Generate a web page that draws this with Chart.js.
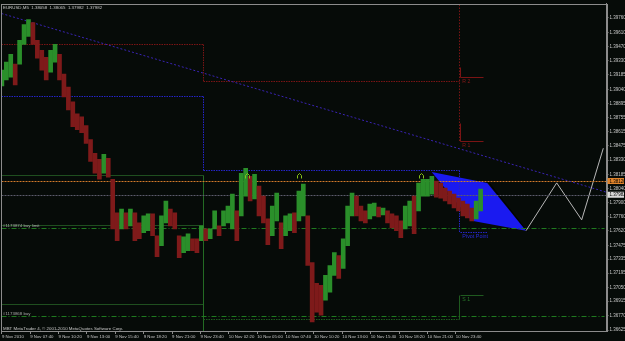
<!DOCTYPE html>
<html>
<head>
<meta charset="UTF-8">
<title>EURUSD,M5</title>
<script src="https://cdn.jsdelivr.net/npm/chart.js"></script>
<style>
    body { margin: 0; background: #060b08; }
    canvas { display: block; }
</style>
</head>
<body>
<canvas id="grafico" width="625" height="341"></canvas>
<script>
// each entry = 5 M5 bars (25 min), bar 0 = first bar on screen
const barStep = 5;
const highs = [
    1.39232, 1.39312, 1.39392, 1.39292, 1.39531, 1.39690, 1.39740, 1.39710, 1.39531, 1.39431,
    1.39362, 1.39431, 1.39491, 1.39392, 1.39193, 1.39063, 1.38914, 1.38795, 1.38765, 1.38675,
    1.38536, 1.38397, 1.38337, 1.38387, 1.38347, 1.38138, 1.37800, 1.37839, 1.37800, 1.37839,
    1.37800, 1.37700, 1.37770, 1.37790, 1.37790, 1.37571, 1.37770, 1.37919, 1.37839, 1.37800,
    1.37571, 1.37561, 1.37591, 1.37541, 1.37541, 1.37670, 1.37640, 1.37640, 1.37820, 1.37670,
    1.37820, 1.37869, 1.37989, 1.37820, 1.38198, 1.38247, 1.38168, 1.38188, 1.38068, 1.37969,
    1.37740, 1.37869, 1.37999, 1.37700, 1.37770, 1.37790, 1.37800, 1.38019, 1.38088, 1.37770,
    1.37302, 1.37093, 1.37073, 1.37173, 1.37272, 1.37402, 1.37372, 1.37541, 1.37869, 1.37999,
    1.37969, 1.37869, 1.37820, 1.37889, 1.37899, 1.37859, 1.37849, 1.37820, 1.37790, 1.37770,
    1.37720, 1.37869, 1.37919, 1.37969, 1.38098, 1.38138, 1.38138, 1.38168, 1.38118, 1.38098,
    1.38048, 1.38019, 1.37989, 1.37949, 1.37919, 1.37889, 1.37849, 1.37919, 1.38038
];
const lows = [
    1.39073, 1.39133, 1.39163, 1.39083, 1.39292, 1.39491, 1.39571, 1.39491, 1.39352, 1.39232,
    1.39133, 1.39213, 1.39312, 1.39133, 1.38964, 1.38834, 1.38665, 1.38635, 1.38606, 1.38496,
    1.38317, 1.38198, 1.38138, 1.38198, 1.38158, 1.37640, 1.37521, 1.37640, 1.37640, 1.37670,
    1.37521, 1.37541, 1.37601, 1.37621, 1.37571, 1.37362, 1.37471, 1.37700, 1.37670, 1.37640,
    1.37352, 1.37402, 1.37422, 1.37422, 1.37402, 1.37521, 1.37521, 1.37541, 1.37640, 1.37571,
    1.37670, 1.37700, 1.37640, 1.37521, 1.37770, 1.37969, 1.37919, 1.37939, 1.37770, 1.37700,
    1.37481, 1.37571, 1.37720, 1.37441, 1.37571, 1.37621, 1.37601, 1.37720, 1.37770, 1.37272,
    1.36705, 1.36805, 1.36775, 1.36924, 1.37004, 1.37173, 1.37143, 1.37242, 1.37471, 1.37770,
    1.37770, 1.37720, 1.37700, 1.37740, 1.37770, 1.37760, 1.37780, 1.37700, 1.37650, 1.37621,
    1.37551, 1.37640, 1.37670, 1.37591, 1.37820, 1.37969, 1.37969, 1.37989, 1.37959, 1.37949,
    1.37919, 1.37889, 1.37849, 1.37820, 1.37770, 1.37750, 1.37720, 1.37740, 1.37820
];

const xTickBars = [0, 32, 64, 96, 128, 160, 192, 224, 256, 288, 320, 352, 384, 416, 448, 480, 512];
const xTickLabels = ['9 Nov 2010', '9 Nov 07:40', '9 Nov 10:20', '9 Nov 13:00', '9 Nov 15:40',
    '9 Nov 18:20', '9 Nov 21:00', '9 Nov 23:40', '10 Nov 02:20', '10 Nov 05:00', '10 Nov 07:40',
    '10 Nov 10:20', '10 Nov 13:00', '10 Nov 15:40', '10 Nov 18:20', '10 Nov 21:00', '10 Nov 23:40'];
const yTicks = [1.39760, 1.39610, 1.39470, 1.39330, 1.39185, 1.39040, 1.38895, 1.38755, 1.38615,
    1.38475, 1.38330, 1.38185, 1.38040, 1.37900, 1.37760, 1.37620, 1.37475, 1.37335, 1.37195,
    1.37050, 1.36915, 1.36770, 1.36625];

const header = 'EURUSD,M5  1.38058  1.38065  1.37982  1.37982';
const footer = 'MBT MetaTrader 4, © 2001-2010 MetaQuotes Software Corp.';
const bidPrice = 1.37982;
const alertPrice = 1.38120;

// day breaks (bar index) and pivot levels
const midnights = [227, 516];
const redLevels = [1.39494, 1.39120];
const blueLevels = [1.38977, 1.38234];
const greenBox = [1.38185, 1.37677, 1.36881];
const s1Yesterday = 1.36732;
const todayLevels = [1.39160, 1.38523, 1.37611, 1.36974];
const todayNames = ['R 2', 'R 1', 'Pivot Point', 'S 1'];
const todayEnd = 543;

const orderPrices = [1.37647, 1.36765];
const orderNames = ['#1173874 buy limit', '#1173868 buy'];

const trendX = [-1, 682];
const trendY = [1.39802, 1.38013];

const patternX = [484.8, 547.5, 591.2, 529.9];
const patternY = [1.38211, 1.38101, 1.37621, 1.37720];
const projX = [591.2, 625.8, 654, 678.4];
const projY = [1.37621, 1.38101, 1.37730, 1.38449];

const fractalX = [276, 335.5, 472.4];
const fractalY = [1.38168, 1.38168, 1.38168];

const verde = '#2a8f2a';
const rojo = '#7e1a1a';

const mids = highs.map((h, i) => (h + lows[i]) / 2);
const velas = highs.map((h, i) => ({ x: i * barStep, y: [lows[i], h] }));
const colores = mids.map((m, i) => (i === 0 || m >= mids[i - 1]) ? verde : rojo);

const fuente = 'Liberation Sans';
Chart.defaults.font.family = fuente;

const dibujos = {
    id: 'dibujos',
    beforeDraw(chart) {
        const ctx = chart.ctx;
        ctx.save();
        ctx.fillStyle = '#060b08';
        ctx.fillRect(0, 0, chart.width, chart.height);
        ctx.restore();
    },
    beforeDatasetsDraw(chart) {
        const ctx = chart.ctx;
        const a = chart.chartArea;
        const X = v => chart.scales.x.getPixelForValue(v);
        const Y = v => chart.scales.y.getPixelForValue(v);
        const c = v => Math.round(v) + 0.5;

        function seg(x1, y1, x2, y2, color, dash) {
            ctx.beginPath();
            ctx.strokeStyle = color;
            ctx.setLineDash(dash || []);
            ctx.moveTo(c(x1), c(y1));
            ctx.lineTo(c(x2), c(y2));
            ctx.stroke();
        }

        ctx.save();
        ctx.beginPath();
        ctx.rect(a.left, a.top, a.right - a.left, a.bottom - a.top);
        ctx.clip();
        ctx.lineWidth = 1;

        const m0 = X(midnights[0]);
        const m1 = X(midnights[1]);
        const tEnd = X(todayEnd);

        // pattern polygon
        ctx.beginPath();
        patternX.forEach((v, i) => {
            if (i === 0) ctx.moveTo(X(v), Y(patternY[i]));
            else ctx.lineTo(X(v), Y(patternY[i]));
        });
        ctx.closePath();
        ctx.fillStyle = '#1a1af0';
        ctx.fill();

        // projection zigzag
        seg(X(patternX[1]) + 2, Y(patternY[1]), X(patternX[2]) + 1, Y(patternY[2]), '#000000');
        ctx.beginPath();
        ctx.strokeStyle = '#b8b8b8';
        ctx.setLineDash([]);
        projX.forEach((v, i) => {
            if (i === 0) ctx.moveTo(X(v), Y(projY[i]));
            else ctx.lineTo(X(v), Y(projY[i]));
        });
        ctx.stroke();

        // yesterday / day-before levels
        const rojoP = '#7a1414';
        const azulP = '#2424c8';
        const verdeP = '#1f4f1f';
        seg(a.left, Y(redLevels[0]), m0, Y(redLevels[0]), rojoP, [1.5, 1]);
        seg(m0, Y(redLevels[0]), m0, Y(redLevels[1]), rojoP, [1.5, 1]);
        seg(m0, Y(redLevels[1]), m1, Y(redLevels[1]), rojoP, [1.5, 1]);

        seg(a.left, Y(blueLevels[0]), m0, Y(blueLevels[0]), azulP, [1.5, 1]);
        seg(m0, Y(blueLevels[0]), m0, Y(blueLevels[1]), azulP, [1.5, 1]);
        seg(m0, Y(blueLevels[1]), m1, Y(blueLevels[1]), azulP, [1.5, 1]);
        seg(m1, Y(blueLevels[1]), m1, Y(todayLevels[2]), azulP, [1.5, 1]);

        greenBox.forEach(p => seg(a.left, Y(p), m0, Y(p), verdeP));
        seg(m0, Y(greenBox[0]), m0, a.bottom, '#236b23');
        seg(m0, Y(s1Yesterday), m1, Y(s1Yesterday), '#1f5a1f', [1.5, 1]);
        seg(m1, Y(todayLevels[3]), m1, Y(s1Yesterday), '#1f5a1f');

        // today's short pivot levels
        seg(m1, a.top, m1, Y(todayLevels[1]), rojoP, [1.5, 1.5]);
        seg(m1 + 1, Y(todayLevels[0]) - 10, m1 + 1, Y(todayLevels[0]), rojoP);
        seg(m1 + 1, Y(todayLevels[1]) - 18, m1 + 1, Y(todayLevels[1]), rojoP);
        const todayColors = [rojoP, rojoP, azulP, '#1f5a1f'];
        todayLevels.forEach((p, i) => {
            const fin = i === 2 ? tEnd + 4 : tEnd;
            seg(m1 + 1, Y(p), fin, Y(p), todayColors[i], i === 2 ? [1.5, 1] : []);
        });

        // order lines
        orderPrices.forEach(p => seg(a.left, Y(p), a.right - 3, Y(p), '#1f7a1f', [5, 2, 1, 2]));

        // price lines
        seg(a.left, Y(alertPrice), a.right, Y(alertPrice), '#d27a2a', [2, 1]);
        seg(a.left, Y(bidPrice), a.right, Y(bidPrice), '#5c5c6c', [2, 1]);

        // trend line
        seg(X(trendX[0]), Y(trendY[0]), X(trendX[1]), Y(trendY[1]), '#3a24b4', [2, 2]);

        ctx.restore();
    },
    afterDatasetsDraw(chart) {
        const ctx = chart.ctx;
        const a = chart.chartArea;
        const X = v => chart.scales.x.getPixelForValue(v);
        const Y = v => chart.scales.y.getPixelForValue(v);
        ctx.save();

        // fractal arrows
        ctx.strokeStyle = '#86c21a';
        ctx.lineWidth = 1;
        ctx.setLineDash([]);
        fractalX.forEach((v, i) => {
            const x = Math.round(X(v)) + 0.5;
            const y = Math.round(Y(fractalY[i])) + 0.5;
            ctx.beginPath();
            ctx.moveTo(x - 2, y + 2);
            ctx.lineTo(x - 2, y - 1);
            ctx.lineTo(x, y - 3);
            ctx.lineTo(x + 2, y - 1);
            ctx.lineTo(x + 2, y + 2);
            ctx.stroke();
        });

        // level names
        const colNames = ['#8a1a1a', '#8a1a1a', '#2a2ad8', '#2a7a2a'];
        ctx.textBaseline = 'top';
        ctx.textAlign = 'left';
        todayLevels.forEach((p, i) => {
            ctx.font = (i === 2 ? '5.4px ' : '5.2px ') + fuente;
            ctx.fillStyle = colNames[i];
            ctx.fillText(todayNames[i], X(midnights[1]) + 3, Y(p) + 2);
        });

        // order labels
        ctx.font = '4.4px ' + fuente;
        ctx.fillStyle = '#a8a8a8';
        ctx.textBaseline = 'bottom';
        orderPrices.forEach((p, i) => ctx.fillText(orderNames[i], a.left + 2, Y(p) - 0.5));

        // header and footer
        ctx.font = '4.4px ' + fuente;
        ctx.fillStyle = '#c8c8c8';
        ctx.textBaseline = 'top';
        ctx.fillText(header, a.left + 2, a.top + 2);
        ctx.textBaseline = 'bottom';
        ctx.fillText(footer, a.left + 2, a.bottom - 0.5);

        // frame
        ctx.strokeStyle = '#8c8c8c';
        ctx.strokeRect(Math.round(a.left) + 0.5, Math.round(a.top) + 0.5,
            Math.round(a.right - a.left), Math.round(a.bottom - a.top));

        // price boxes on the axis
        ctx.font = '4.5px ' + fuente;
        ctx.textBaseline = 'middle';
        [[alertPrice, '#e0842c'], [bidPrice, '#d8d8d8']].forEach(([p, bg]) => {
            const y = Y(p);
            ctx.fillStyle = bg;
            ctx.fillRect(a.right + 1, y - 3, chart.width - a.right - 2, 6);
            ctx.fillStyle = '#000000';
            ctx.fillText(p.toFixed(5), a.right + 3, y + 0.3);
        });
        ctx.restore();
    }
};

new Chart(document.getElementById('grafico'), {
    type: 'bar',
    data: {
        datasets: [{
            data: velas,
            backgroundColor: colores,
            borderWidth: 0,
            barThickness: 4,
            grouped: false
        }]
    },
    options: {
        responsive: false,
        devicePixelRatio: 1,
        animation: false,
        layout: { padding: { top: 1, left: 1, right: 0, bottom: 0 } },
        plugins: { legend: { display: false }, tooltip: { enabled: false } },
        scales: {
            x: {
                type: 'linear',
                min: -1,
                max: 682,
                offset: false,
                afterBuildTicks: axis => { axis.ticks = xTickBars.map(v => ({ value: v })); },
                afterFit: scale => { scale.height = 10; },
                grid: { drawOnChartArea: false, drawTicks: true, tickLength: 3, color: '#8c8c8c', offset: false },
                border: { display: true, color: '#8c8c8c' },
                ticks: {
                    autoSkip: false,
                    maxRotation: 0,
                    minRotation: 0,
                    align: 'start',
                    padding: 0,
                    color: '#c8c8c8',
                    font: { size: 4.3 },
                    callback: v => xTickLabels[xTickBars.indexOf(v)]
                }
            },
            y: {
                type: 'linear',
                position: 'right',
                min: 1.36615,
                max: 1.39899,
                afterBuildTicks: axis => { axis.ticks = yTicks.map(v => ({ value: v })); },
                afterFit: scale => { scale.width = 18.5; },
                grid: { drawOnChartArea: false, drawTicks: true, tickLength: 2, color: '#8c8c8c' },
                border: { display: true, color: '#8c8c8c' },
                ticks: {
                    autoSkip: false,
                    padding: 1,
                    color: '#c8c8c8',
                    font: { size: 4.5 },
                    callback: v => v.toFixed(5)
                }
            }
        }
    },
    plugins: [dibujos]
});
</script>
</body>
</html>
